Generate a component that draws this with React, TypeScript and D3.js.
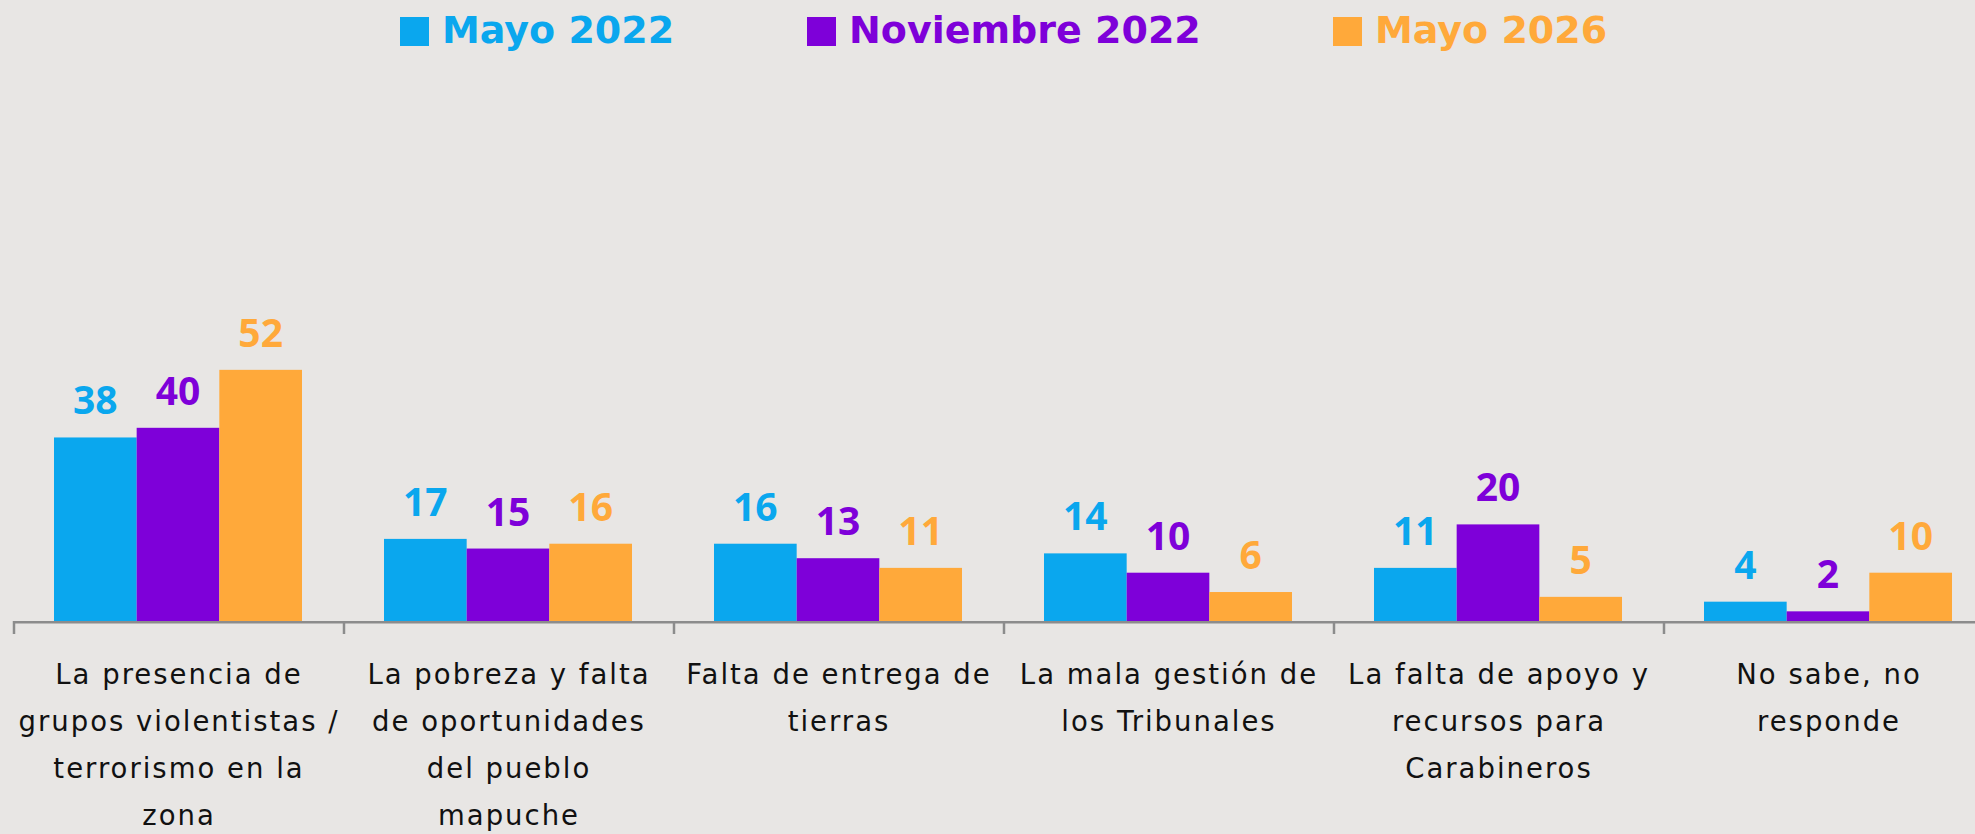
import React from "react";
import * as d3 from "d3";

const categories = ["c1", "c2", "c3", "c4", "c5", "c6"];
const categoryLines: string[][] = [
  ["La presencia de", "grupos violentistas /", "terrorismo en la", "zona"],
  ["La pobreza y falta", "de oportunidades", "del pueblo", "mapuche"],
  ["Falta de entrega de", "tierras"],
  ["La mala gestión de", "los Tribunales"],
  ["La falta de apoyo y", "recursos para", "Carabineros"],
  ["No sabe, no", "responde"],
];
const seriesNames = ["Mayo 2022", "Noviembre 2022", "Mayo 2026"];
const mayo2022 = [38, 17, 16, 14, 11, 4];
const noviembre2022 = [40, 15, 13, 10, 20, 2];
const mayo2026 = [52, 16, 11, 6, 5, 10];
const seriesValues = [mayo2022, noviembre2022, mayo2026];
const colors = ["#0AA7EE", "#7E00D9", "#FFA93A"];

const W = 1975;
const H = 834;
const FONT = "'Open Sans', 'DejaVu Sans', sans-serif";
const WIDE_FONT = "'DejaVu Sans', 'Open Sans', sans-serif";

export default function App() {
  const baseY = 621;
  const x0 = d3.scaleBand<string>().domain(categories).range([13, 13 + 330 * 6]).padding(0);
  const x1 = d3.scaleBand<string>().domain(seriesNames).range([41, 289]).padding(0);
  const y = d3.scaleLinear().domain([0, 100]).range([baseY, 138]);

  const legendX = [400, 807, 1333];

  return (
    <div style={{ position: "absolute", left: 0, top: 0 }}>
      <svg width={W} height={H} style={{ display: "block", background: "#E8E6E4" }}>
        <rect x={0} y={0} width={W} height={H} fill="#E8E6E4" />
        {/* legend */}
        {seriesNames.map((s, i) => (
          <g key={s}>
            <rect x={legendX[i]} y={17} width={29} height={29} fill={colors[i]} />
            <text
              x={legendX[i] + 42}
              y={43}
              fill={colors[i]}
              fontFamily={WIDE_FONT}
              fontWeight={700}
              fontSize={38}
            >
              {s}
            </text>
          </g>
        ))}
        {/* bars */}
        {categories.map((c, ci) => (
          <g key={c} transform={`translate(${x0(c)},0)`}>
            {seriesNames.map((s, si) => {
              const v = seriesValues[si][ci];
              return (
                <g key={s}>
                  <rect
                    x={x1(s)}
                    y={y(v)}
                    width={x1.bandwidth()}
                    height={baseY - y(v)}
                    fill={colors[si]}
                  />
                  <text
                    x={(x1(s) as number) + x1.bandwidth() / 2}
                    y={y(v) - 23}
                    textAnchor="middle"
                    fill={colors[si]}
                    fontFamily={FONT}
                    fontWeight={700}
                    fontSize={39}
                  >
                    {v}
                  </text>
                </g>
              );
            })}
          </g>
        ))}
        {/* axis */}
        <line x1={13} x2={W} y1={baseY + 1.2} y2={baseY + 1.2} stroke="#8C8C8C" strokeWidth={2.5} />
        {categories.map((c) => (
          <line
            key={c}
            x1={(x0(c) as number) + 1}
            x2={(x0(c) as number) + 1}
            y1={baseY}
            y2={baseY + 13}
            stroke="#8C8C8C"
            strokeWidth={2.5}
          />
        ))}
        {/* category labels */}
        {categories.map((c, ci) => (
          <text
            key={c}
            x={(x0(c) as number) + x0.bandwidth() / 2}
            textAnchor="middle"
            fill="#111111"
            fontFamily={WIDE_FONT}
            fontSize={27.5}
            letterSpacing={2}
          >
            {categoryLines[ci].map((line, li) => (
              <tspan key={li} x={(x0(c) as number) + x0.bandwidth() / 2 + 1} y={684 + li * 47}>
                {line}
              </tspan>
            ))}
          </text>
        ))}
      </svg>
    </div>
  );
}
